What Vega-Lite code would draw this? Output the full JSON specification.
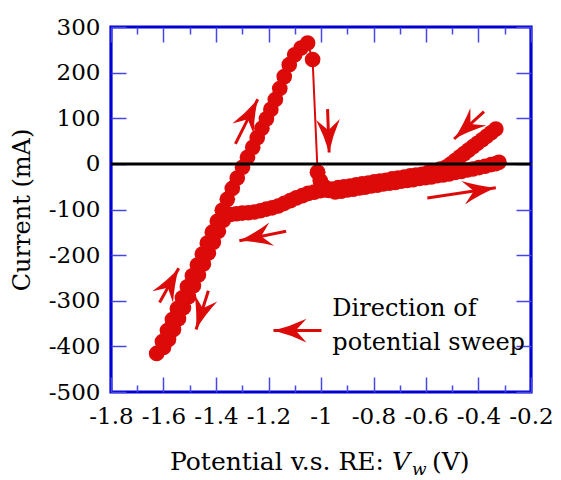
{
  "$schema": "https://vega.github.io/schema/vega-lite/v6.json",
  "width": 420,
  "height": 365,
  "autosize": {"type": "none"},
  "padding": {"left": 111, "top": 27, "right": 30, "bottom": 88},
  "background": "white",
  "config": {
    "font": "DejaVu Serif",
    "view": {"stroke": "#0000d4", "strokeWidth": 3.2},
    "axis": {
      "domain": false, "grid": false,
      "labelFont": "DejaVu Serif", "labelFontSize": 23, "labelColor": "black",
      "titleFont": "DejaVu Serif", "titleFontSize": 24, "titleFontWeight": "normal", "titleColor": "black",
      "tickColor": "#4646e6", "tickWidth": 1.5,
      "labelFlush": false, "labelOverlap": false, "labelBound": false
    }
  },
  "datasets": {
    "trace": [
      {"s":"b","k":1,"E":-0.334,"I":76.3},{"s":"b","k":2,"E":-0.352,"I":68.2},{"s":"b","k":3,"E":-0.369,"I":60.6},
      {"s":"b","k":4,"E":-0.386,"I":52.9},{"s":"b","k":5,"E":-0.404,"I":45.3},{"s":"b","k":6,"E":-0.421,"I":37.7},
      {"s":"b","k":7,"E":-0.438,"I":30.1},{"s":"b","k":8,"E":-0.455,"I":22.4},{"s":"b","k":9,"E":-0.472,"I":14.8},
      {"s":"b","k":10,"E":-0.489,"I":7.2},{"s":"b","k":11,"E":-0.506,"I":-0.4},{"s":"b","k":12,"E":-0.523,"I":-7.0},
      {"s":"b","k":13,"E":-0.546,"I":-11.3},{"s":"b","k":14,"E":-0.569,"I":-15.2},{"s":"b","k":15,"E":-0.592,"I":-19.0},
      {"s":"b","k":16,"E":-0.615,"I":-22.8},{"s":"b","k":17,"E":-0.638,"I":-24.4},{"s":"b","k":18,"E":-0.660,"I":-26.1},
      {"s":"b","k":19,"E":-0.683,"I":-29.2},{"s":"b","k":20,"E":-0.706,"I":-30.9},{"s":"b","k":21,"E":-0.729,"I":-32.6},
      {"s":"b","k":22,"E":-0.752,"I":-35.8},{"s":"b","k":23,"E":-0.775,"I":-37.5},{"s":"b","k":24,"E":-0.797,"I":-39.1},
      {"s":"b","k":25,"E":-0.820,"I":-42.3},{"s":"b","k":26,"E":-0.843,"I":-44.0},{"s":"b","k":27,"E":-0.866,"I":-45.7},
      {"s":"b","k":28,"E":-0.889,"I":-48.9},{"s":"b","k":29,"E":-0.912,"I":-50.5},{"s":"b","k":30,"E":-0.934,"I":-52.2},
      {"s":"b","k":31,"E":-0.957,"I":-55.4},{"s":"b","k":32,"E":-0.980,"I":-57.1},{"s":"b","k":33,"E":-1.003,"I":-58.8},
      {"s":"b","k":34,"E":-1.026,"I":-61.9},{"s":"b","k":35,"E":-1.049,"I":-64.7},{"s":"b","k":36,"E":-1.071,"I":-69.6},
      {"s":"b","k":37,"E":-1.094,"I":-74.5},{"s":"b","k":38,"E":-1.117,"I":-80.5},{"s":"b","k":39,"E":-1.140,"I":-86.5},
      {"s":"b","k":40,"E":-1.163,"I":-92.4},{"s":"b","k":41,"E":-1.186,"I":-96.3},{"s":"b","k":42,"E":-1.208,"I":-99.1},
      {"s":"b","k":43,"E":-1.231,"I":-102.8},{"s":"b","k":44,"E":-1.254,"I":-105.5},{"s":"b","k":45,"E":-1.277,"I":-107.2},
      {"s":"b","k":46,"E":-1.300,"I":-107.8},{"s":"b","k":47,"E":-1.322,"I":-109.4},{"s":"b","k":48,"E":-1.345,"I":-111.0},
      {"s":"b","k":49,"E":-1.364,"I":-112.6},{"s":"b","k":50,"E":-1.372,"I":-123.5},{"s":"b","k":51,"E":-1.391,"I":-147.5},
      {"s":"b","k":52,"E":-1.410,"I":-171.5},{"s":"b","k":53,"E":-1.429,"I":-195.4},{"s":"b","k":54,"E":-1.448,"I":-219.4},
      {"s":"b","k":55,"E":-1.467,"I":-243.4},{"s":"b","k":56,"E":-1.486,"I":-267.3},{"s":"b","k":57,"E":-1.505,"I":-291.3},
      {"s":"b","k":58,"E":-1.524,"I":-315.3},{"s":"b","k":59,"E":-1.543,"I":-339.2},{"s":"b","k":60,"E":-1.562,"I":-363.2},
      {"s":"b","k":61,"E":-1.581,"I":-385.0},{"s":"b","k":62,"E":-1.600,"I":-402.4},{"s":"b","k":63,"E":-1.626,"I":-415.5},
      {"s":"b","k":64,"E":-1.604,"I":-389.3},{"s":"b","k":65,"E":-1.585,"I":-365.4},{"s":"b","k":66,"E":-1.566,"I":-341.4},
      {"s":"b","k":67,"E":-1.547,"I":-317.4},{"s":"b","k":68,"E":-1.528,"I":-293.5},{"s":"b","k":69,"E":-1.509,"I":-269.5},
      {"s":"b","k":70,"E":-1.490,"I":-245.5},{"s":"b","k":71,"E":-1.471,"I":-221.6},{"s":"b","k":72,"E":-1.452,"I":-197.6},
      {"s":"b","k":73,"E":-1.433,"I":-173.7},{"s":"b","k":74,"E":-1.414,"I":-149.7},{"s":"b","k":75,"E":-1.395,"I":-125.7},
      {"s":"b","k":76,"E":-1.376,"I":-101.7},{"s":"b","k":77,"E":-1.357,"I":-77.8},{"s":"b","k":78,"E":-1.338,"I":-53.8},
      {"s":"b","k":79,"E":-1.319,"I":-30.9},{"s":"b","k":80,"E":-1.299,"I":-7.4},{"s":"b","k":81,"E":-1.280,"I":14.4},
      {"s":"b","k":82,"E":-1.260,"I":36.2},{"s":"b","k":83,"E":-1.243,"I":57.3},{"s":"b","k":84,"E":-1.225,"I":78.0},
      {"s":"b","k":85,"E":-1.208,"I":98.7},{"s":"b","k":86,"E":-1.191,"I":119.4},{"s":"b","k":87,"E":-1.174,"I":141.2},
      {"s":"b","k":88,"E":-1.157,"I":165.1},{"s":"b","k":89,"E":-1.140,"I":191.3},{"s":"b","k":90,"E":-1.121,"I":217.4},
      {"s":"b","k":91,"E":-1.100,"I":239.2},{"s":"b","k":92,"E":-1.076,"I":254.0},{"s":"b","k":93,"E":-1.051,"I":264.9},
      {"s":"b","k":94,"E":-1.032,"I":228.8},{"s":"b","k":95,"E":-1.013,"I":-18.3},
      {"s":"f","k":1,"E":-1.013,"I":-18.3},{"s":"f","k":2,"E":-1.003,"I":-36.4},{"s":"f","k":3,"E":-0.988,"I":-49.5},
      {"s":"f","k":4,"E":-0.969,"I":-58.2},{"s":"f","k":5,"E":-0.946,"I":-61.4},{"s":"f","k":6,"E":-0.923,"I":-59.8},
      {"s":"f","k":7,"E":-0.900,"I":-57.1},{"s":"f","k":8,"E":-0.877,"I":-55.4},{"s":"f","k":9,"E":-0.854,"I":-52.7},
      {"s":"f","k":10,"E":-0.832,"I":-51.0},{"s":"f","k":11,"E":-0.809,"I":-48.4},{"s":"f","k":12,"E":-0.786,"I":-46.7},
      {"s":"f","k":13,"E":-0.763,"I":-44.0},{"s":"f","k":14,"E":-0.740,"I":-42.3},{"s":"f","k":15,"E":-0.717,"I":-40.7},
      {"s":"f","k":16,"E":-0.695,"I":-38.1},{"s":"f","k":17,"E":-0.672,"I":-36.4},{"s":"f","k":18,"E":-0.649,"I":-34.7},
      {"s":"f","k":19,"E":-0.626,"I":-32.0},{"s":"f","k":20,"E":-0.603,"I":-30.3},{"s":"f","k":21,"E":-0.580,"I":-28.8},
      {"s":"f","k":22,"E":-0.558,"I":-26.1},{"s":"f","k":23,"E":-0.535,"I":-24.4},{"s":"f","k":24,"E":-0.512,"I":-22.1},
      {"s":"f","k":25,"E":-0.489,"I":-19.0},{"s":"f","k":26,"E":-0.466,"I":-16.8},{"s":"f","k":27,"E":-0.443,"I":-13.5},
      {"s":"f","k":28,"E":-0.421,"I":-11.2},{"s":"f","k":29,"E":-0.398,"I":-8.1},{"s":"f","k":30,"E":-0.375,"I":-5.3},
      {"s":"f","k":31,"E":-0.352,"I":-1.5},{"s":"f","k":32,"E":-0.333,"I":0.7},{"s":"f","k":33,"E":-0.322,"I":3.5}
    ],
    "arrows": [
      {"x0":-1.326,"y0":44,"x1":-1.241,"y1":141.6,"dir":-63.5},
      {"x0":-0.975,"y0":120,"x1":-0.969,"y1":25,"dir":88},
      {"x0":-0.379,"y0":114.6,"x1":-0.493,"y1":54.5,"dir":137.4},
      {"x0":-0.595,"y0":-75,"x1":-0.334,"y1":-52.3,"dir":-8.6},
      {"x0":-1.133,"y0":-147.5,"x1":-1.311,"y1":-168.6,"dir":168.3},
      {"x0":-1.615,"y0":-304,"x1":-1.542,"y1":-228.8,"dir":-60.9},
      {"x0":-1.429,"y0":-278,"x1":-1.476,"y1":-363,"dir":107.5},
      {"x0":-0.998,"y0":-365.4,"x1":-1.181,"y1":-365.4,"dir":180}
    ]
  },
  "layer": [
    {
      "data": {"name": "trace"},
      "mark": {"type": "line", "color": "#dd0a0a", "strokeWidth": 2},
      "encoding": {
        "x": {
          "field": "E", "type": "quantitative",
          "scale": {"domain": [-1.8, -0.2], "nice": false, "zero": false},
          "axis": {
            "orient": "bottom",
            "values": [-1.8,-1.7,-1.6,-1.5,-1.4,-1.3,-1.2,-1.1,-1,-0.9,-0.8,-0.7,-0.6,-0.5,-0.4,-0.3,-0.2],
            "tickSize": {"condition": {"test": "round(datum.value*10) % 2 != 0", "value": -7}, "value": -15},
            "labelPadding": 28,
            "labelExpr": "round(datum.value*10) % 2 == 0 ? '' + datum.value : ''",
            "title": null
          }
        },
        "y": {
          "field": "I", "type": "quantitative",
          "scale": {"domain": [-500, 300], "nice": false, "zero": false},
          "axis": {
            "orient": "left",
            "values": [-500,-400,-300,-200,-100,0,100,200,300],
            "tickSize": -15,
            "labelPadding": 26,
            "labelExpr": "'' + datum.value",
            "title": "Current (mA)",
            "titlePadding": 14
          }
        },
        "detail": {"field": "s"},
        "order": {"field": "k"}
      }
    },
    {
      "data": {"name": "trace"},
      "mark": {"type": "point", "filled": true, "shape": "circle", "size": 245, "opacity": 1, "color": "#dd0a0a"},
      "encoding": {
        "x": {
          "field": "E", "type": "quantitative",
          "scale": {"domain": [-1.8, -0.2], "nice": false, "zero": false},
          "axis": {
            "orient": "top",
            "values": [-1.8,-1.7,-1.6,-1.5,-1.4,-1.3,-1.2,-1.1,-1,-0.9,-0.8,-0.7,-0.6,-0.5,-0.4,-0.3,-0.2],
            "tickSize": {"condition": {"test": "round(datum.value*10) % 2 != 0", "value": -7}, "value": -15},
            "labels": false, "title": null
          }
        },
        "y": {
          "field": "I", "type": "quantitative",
          "scale": {"domain": [-500, 300], "nice": false, "zero": false},
          "axis": {
            "orient": "right",
            "values": [-500,-400,-300,-200,-100,0,100,200,300],
            "tickSize": -15, "labels": false, "title": null
          }
        }
      }
    },
    {
      "data": {"name": "arrows"},
      "mark": {"type": "rule", "color": "#dd0a0a", "strokeWidth": 3},
      "encoding": {
        "x": {"field": "x0", "type": "quantitative", "axis": null},
        "y": {"field": "y0", "type": "quantitative", "axis": null},
        "x2": {"field": "x1"},
        "y2": {"field": "y1"}
      }
    },
    {
      "data": {"name": "arrows"},
      "mark": {"type": "point", "shape": "M0,0 Q-1,-0.25 -2,-0.72 L-1.35,0 L-2,0.72 Q-1,0.25 0,0 Z", "filled": true, "opacity": 1, "size": 1089, "color": "#dd0a0a", "strokeWidth": 0},
      "encoding": {
        "x": {"field": "x1", "type": "quantitative", "axis": null},
        "y": {"field": "y1", "type": "quantitative", "axis": null},
        "angle": {"field": "dir", "type": "quantitative", "scale": null}
      }
    },
    {
      "data": {"values": [{}]},
      "mark": {"type": "text", "text": ["Direction of", "potential sweep"], "align": "left", "baseline": "alphabetic", "fontSize": 24, "lineHeight": 34, "color": "black", "font": "DejaVu Serif"},
      "encoding": {
        "x": {"datum": -0.957, "type": "quantitative", "axis": null},
        "y": {"datum": -334, "type": "quantitative", "axis": null}
      }
    },
    {
      "data": {"values": [{}]},
      "mark": {"type": "text", "text": "Potential v.s. RE:", "align": "right", "baseline": "alphabetic", "fontSize": 25, "color": "black", "font": "DejaVu Serif"},
      "encoding": {
        "x": {"datum": -0.76, "type": "quantitative", "axis": null},
        "y": {"datum": -672, "type": "quantitative", "axis": null}
      }
    },
    {
      "data": {"values": [{}]},
      "mark": {"type": "text", "text": "V", "align": "left", "baseline": "alphabetic", "fontSize": 25, "fontStyle": "italic", "dx": 8, "color": "black", "font": "DejaVu Serif"},
      "encoding": {
        "x": {"datum": -0.76, "type": "quantitative", "axis": null},
        "y": {"datum": -672, "type": "quantitative", "axis": null}
      }
    },
    {
      "data": {"values": [{}]},
      "mark": {"type": "text", "text": "w", "align": "left", "baseline": "alphabetic", "fontSize": 17, "fontStyle": "italic", "dx": 28, "dy": 5, "color": "black", "font": "DejaVu Serif"},
      "encoding": {
        "x": {"datum": -0.76, "type": "quantitative", "axis": null},
        "y": {"datum": -672, "type": "quantitative", "axis": null}
      }
    },
    {
      "data": {"values": [{}]},
      "mark": {"type": "text", "text": "(V)", "align": "left", "baseline": "alphabetic", "fontSize": 25, "dx": 48, "color": "black", "font": "DejaVu Serif"},
      "encoding": {
        "x": {"datum": -0.76, "type": "quantitative", "axis": null},
        "y": {"datum": -672, "type": "quantitative", "axis": null}
      }
    },
    {
      "data": {"values": [{}]},
      "mark": {"type": "rule", "color": "black", "strokeWidth": 3},
      "encoding": {
        "y": {"datum": 0, "type": "quantitative", "axis": null}
      }
    }
  ],
  "resolve": {"axis": {"x": "independent", "y": "independent"}}
}
